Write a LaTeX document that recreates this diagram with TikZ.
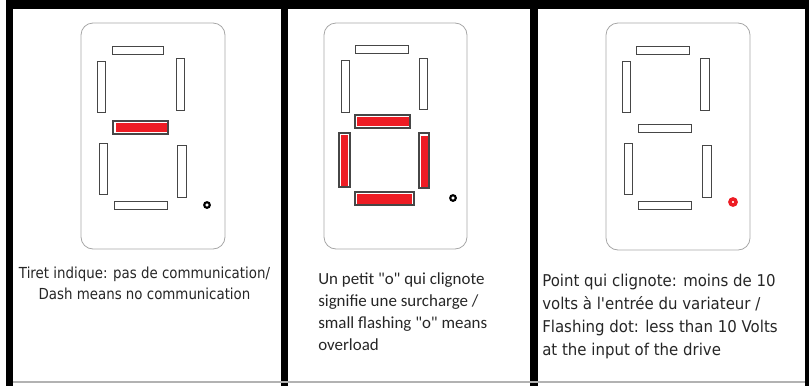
\documentclass[tikz,border=0pt]{standalone}
\usepackage{fontspec}
\setmainfont{DejaVu Sans}
\newfontfamily\tahfont[FakeStretch=0.88]{DejaVu Sans}
\newfontfamily\verfont[FakeStretch=0.92]{DejaVu Sans}
\newfontfamily\calfont{Carlito}
\definecolor{segred}{RGB}{237,28,36}
\definecolor{segedge}{RGB}{70,70,70}
\tikzset{
  segoff/.style={draw=segedge, fill=white, line width=0.75pt},
  segon/.style={draw=segedge, fill=white, line width=0.8pt},
  segfill/.style={fill=segred},
  casebox/.style={draw=black!35, line width=0.6pt, rounded corners=9pt},
  caption/.style={inner sep=0pt, text=black!85}
}
\begin{document}
\begin{tikzpicture}[x=0.75pt,y=-0.75pt]
    \useasboundingbox (0,0) rectangle (809,386);

    % frame
    \fill (6,0) rectangle (809,8.5);
    \fill (6,0) rectangle (13,386);
    \fill (281,0) rectangle (288,386);
    \fill (530,0) rectangle (538,386);
    \fill (805,0) rectangle (809,386);
    \draw[black!30, line width=0.8pt] (13,382) -- (805,382);

    % display 1: dash
    \draw[casebox] (81,23) rectangle (225,249);
    \draw[segoff] (112,46) rectangle (163,54);
    \draw[segoff] (97,61) rectangle (105,112);
    \draw[segoff] (176,58) rectangle (184,110);
    \draw[segon] (113,121) rectangle (168,134);
    \fill[segfill] (115.5,123) rectangle (166.5,131.5);
    \draw[segoff] (99,143) rectangle (107,194);
    \draw[segoff] (177,145) rectangle (186,197);
    \draw[segoff] (114,201) rectangle (167,209);
    \draw[line width=1.6pt] (207,205) circle (2.1pt);

    % display 2: small o
    \draw[casebox] (324,23) rectangle (467,249);
    \draw[segoff] (355,45) rectangle (408,53);
    \draw[segoff] (341,60) rectangle (349,112);
    \draw[segoff] (419,58) rectangle (427,109);
    \draw[segon] (355,115) rectangle (410,128);
    \fill[segfill] (357,117) rectangle (408.5,126);
    \draw[segon] (339,133) rectangle (350,187);
    \fill[segfill] (341,135) rectangle (348,185.5);
    \draw[segon] (419,133) rectangle (429,188);
    \fill[segfill] (420.5,136) rectangle (427.5,186.5);
    \draw[segon] (355,192) rectangle (414,205);
    \fill[segfill] (356.5,194) rectangle (412,203.5);
    \draw[line width=1.6pt] (453,198) circle (2.1pt);

    % display 3: flashing dot
    \draw[casebox] (606,23) rectangle (750,250);
    \draw[segoff] (636,46) rectangle (689,54);
    \draw[segoff] (622,61) rectangle (630,112);
    \draw[segoff] (700,58) rectangle (709,110);
    \draw[segoff] (638,124) rectangle (691,132);
    \draw[segoff] (624,143) rectangle (632,194);
    \draw[segoff] (702,145) rectangle (711,197);
    \draw[segoff] (638,201) rectangle (691,209);
    \draw[segred, line width=2.6pt] (733,202) circle (2.3pt);

    % captions
    \node[caption, align=center, anchor=north, font=\tahfont\fontsize{11.4}{15.5}\selectfont]
      (txtdash) at (144.5,267) {Tiret indique: pas de communication/\\Dash means no communication};
    \node[caption, align=left, anchor=north west, font=\calfont\fontsize{12.7}{16.5}\selectfont]
      (txtover) at (318,272) {Un petit "o" qui clignote\\signifie une surcharge /\\small flashing "o" means\\overload};
    \node[caption, align=left, anchor=north west, font=\verfont\fontsize{12.2}{17.3}\selectfont]
      (txtdot) at (542,274) {Point qui clignote: moins de 10\\volts à l'entrée du variateur /\\Flashing dot: less than 10 Volts\\at the input of the drive};

\end{tikzpicture}
\end{document}
